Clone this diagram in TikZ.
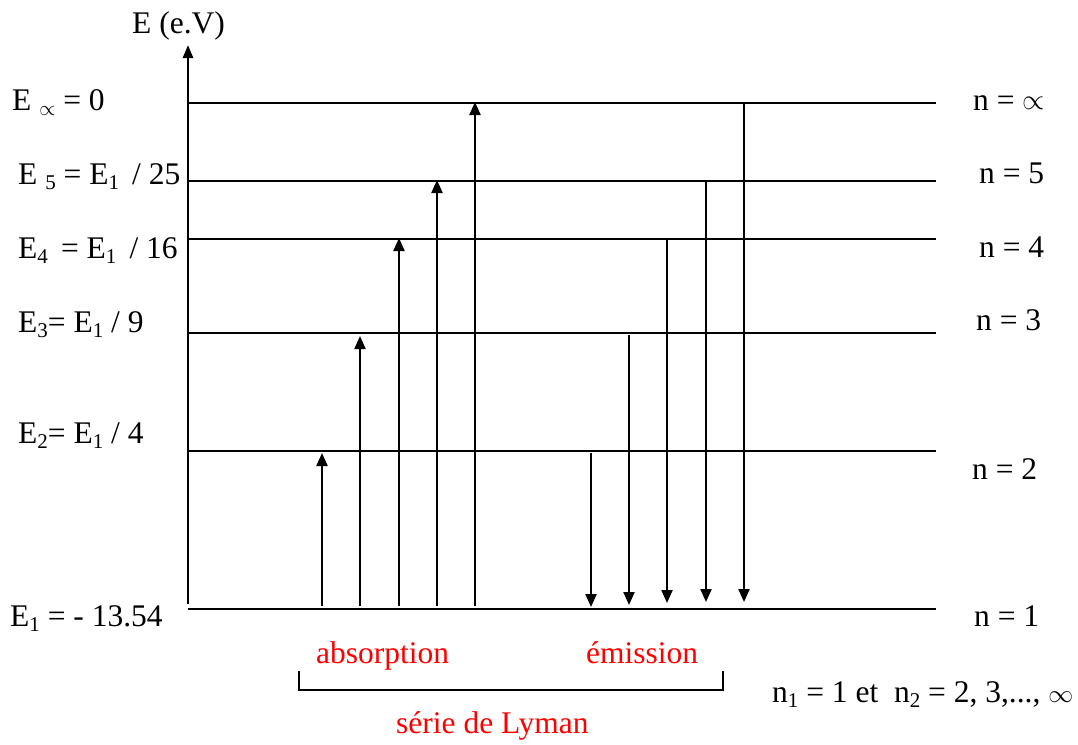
\documentclass[tikz,border=0pt]{standalone}
\usepackage{fontspec}
\setmainfont{Liberation Serif}
\usetikzlibrary{arrows.meta}
\newcommand\lowr[1]{\raisebox{-0.17em}{\fontsize{21}{23}\selectfont #1}}
\newcommand\bigprop{\ensuremath{\vcenter{\hbox{\scalebox{1.15}{$\propto$}}}}}
\definecolor{labred}{RGB}{255,0,0}
\begin{document}
\begin{tikzpicture}[x=1pt,y=-1pt,
  lvl/.style={line width=2.6pt},
  axisline/.style={line width=2.6pt,-{Triangle[length=13pt,width=10pt]}},
  trans/.style={line width=2.2pt,-{Triangle[length=13pt,width=11pt]}},
  lab/.style={anchor=base west,inner sep=0pt,font=\fontsize{31.5}{36}\selectfont},
  redlab/.style={lab,text=labred},
  brace/.style={line width=2pt}]
\useasboundingbox (0,0) rectangle (1078,744);
% axis
\coordinate (ax0) at (188,604);
\coordinate (ax1) at (188,45);
\draw[axisline] (ax0) -- (ax1);
\node[lab] (Eaxis) at (132,33) {E (e.V)};
% levels
\foreach \nm/\y in {Linf/103,L5/181,L4/239,L3/333,L2/451,L1/609}{
  \coordinate (\nm w) at (188,\y);
  \coordinate (\nm e) at (936,\y);
  \draw[lvl] (\nm w) -- (\nm e);
}
% left labels
\node[lab] (tinf) at (12,110) {E \lowr{\ensuremath{\propto}} = 0};
\node[lab] (t5) at (18,184) {E \lowr{5} = E\lowr{1} \,/ 25};
\node[lab] (t4) at (18,258) {E\lowr{4} \,= E\lowr{1} \,/ 16};
\node[lab] (t3) at (18,332) {E\lowr{3}= E\lowr{1} / 9};
\node[lab] (t2) at (18,443) {E\lowr{2}= E\lowr{1} / 4};
\node[lab] (t1) at (10,626) {E\lowr{1} = - 13.54};
% right labels
\node[lab] (ninf) at (973,110) {n = \bigprop};
\node[lab] (n5) at (979,183) {n = 5};
\node[lab] (n4) at (979,257) {n = 4};
\node[lab] (n3) at (976,330) {n = 3};
\node[lab] (n2) at (972,479) {n = 2};
\node[lab] (n1) at (974,626) {n = 1};
% absorption arrows
\foreach \i/\x/\yt in {1/322/453,2/360/336,3/399/238,4/437/180,5/475/102}{
  \coordinate (ab\i s) at (\x,606);
  \coordinate (ab\i e) at (\x,\yt);
  \draw[trans] (ab\i s) -- (ab\i e);
}
% emission arrows
\foreach \i/\x/\ys/\ye in {1/591/453/607,2/629/335/605,3/667/239/603,4/706/181/602,5/744/103/602}{
  \coordinate (em\i s) at (\x,\ys);
  \coordinate (em\i e) at (\x,\ye);
  \draw[trans] (em\i s) -- (em\i e);
}
% labels below
\node[redlab] (abs) at (316,663) {absorption};
\node[redlab] (emi) at (586,663) {émission};
\coordinate (b1) at (299,671);
\coordinate (b2) at (299,690);
\coordinate (b3) at (723,690);
\coordinate (b4) at (723,671);
\draw[brace] (b1) -- (b2) -- (b3) -- (b4);
\node[redlab] (lyman) at (396,733) {série de Lyman};
\node[lab] (nn) at (772,702) {n\lowr{1} = 1 et \ n\lowr{2} = 2, 3,..., \ensuremath{\infty}};
\end{tikzpicture}
\end{document}
